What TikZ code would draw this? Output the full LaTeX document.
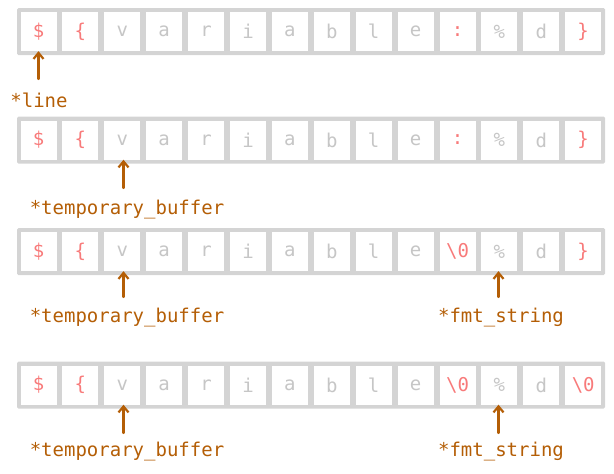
\documentclass[tikz,border=0pt]{standalone}
\usepackage{fontspec}
\setmonofont{DejaVu Sans Mono}
\usetikzlibrary{arrows.meta}
\definecolor{boxgray}{RGB}{212,212,212}
\definecolor{chgray}{RGB}{198,198,198}
\definecolor{chred}{RGB}{248,122,122}
\definecolor{ptr}{RGB}{180,94,6}
\begin{document}
\begin{tikzpicture}[x=1pt,y=-1pt,
  rowbox/.style={fill=boxgray, rounded corners=1.5pt},
  cell/.style={fill=white, minimum width=36pt, minimum height=39pt, inner sep=0pt,
    font=\ttfamily\fontsize{19}{19}\selectfont, text=chgray},
  hl/.style={text=chred},
  nn/.style={},
  ptrlabel/.style={font=\ttfamily\fontsize{19}{19}\selectfont, text=ptr, inner sep=0pt},
  ptrarrow/.style={draw=ptr, line width=2.2pt, line cap=round, -{Straight Barb[length=6pt,width=10pt,line width=2.2pt]}}]
\useasboundingbox (0,0) rectangle (614,474);

% rows
\foreach \r/\cy/\last/\lst/\sep/\sst in {1/31.5/{\}}/hl/:/hl, 2/140/{\}}/hl/:/hl, 3/251.5/{\}}/hl/{\textbackslash 0}/hl, 4/385/{\textbackslash 0}/hl/{\textbackslash 0}/hl} {
  \fill[rowbox] (17,\cy-23.5) rectangle (605,\cy+23.5);
  \foreach \ch/\st [count=\i] in {{\$}/hl, {\{}/hl, v/nn, a/nn, r/nn, i/nn, a/nn, b/nn, l/nn, e/nn, {\sep}/\sst, {\%}/nn, d/nn, {\last}/\lst} {
    \node[cell,\st] (r\r c\i) at ({38.5+(\i-1)*41.9},\cy) {\ch};
  }
}

% pointers
\coordinate (t1) at (38.5,79);
\node[ptrlabel] (l1) at (39,100) {*line};
\draw[ptrarrow] (t1) -- (r1c1.south);

\coordinate (t2) at (123.5,188);
\node[ptrlabel] (l2) at (127,210) {*temporary\_buffer};
\draw[ptrarrow] (t2) -- (r2c3.south -| t2);

\coordinate (t3a) at (123.5,297);
\node[ptrlabel] (l3a) at (127,318) {*temporary\_buffer};
\draw[ptrarrow] (t3a) -- (r3c3.south -| t3a);
\coordinate (t3b) at (498.5,297);
\node[ptrlabel] (l3b) at (501,318) {*fmt\_string};
\draw[ptrarrow] (t3b) -- (r3c12.south -| t3b);

\coordinate (t4a) at (123.5,433);
\node[ptrlabel] (l4a) at (127,452) {*temporary\_buffer};
\draw[ptrarrow] (t4a) -- (r4c3.south -| t4a);
\coordinate (t4b) at (498.5,433);
\node[ptrlabel] (l4b) at (501,452) {*fmt\_string};
\draw[ptrarrow] (t4b) -- (r4c12.south -| t4b);
\end{tikzpicture}
\end{document}
